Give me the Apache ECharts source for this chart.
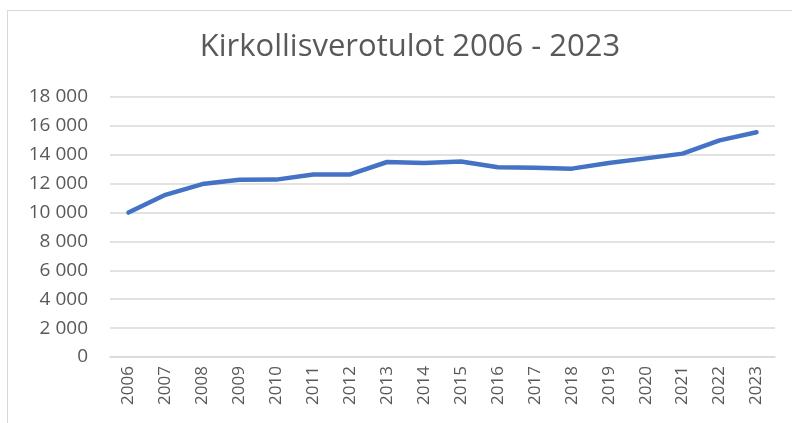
<!DOCTYPE html>
<html>
<head>
<meta charset="utf-8">
<script src="https://cdn.jsdelivr.net/npm/echarts@6/dist/echarts.min.js"></script>
<style>
  html, body { margin: 0; padding: 0; background: #fff; }
  #frame { position: absolute; left: 7px; top: 10px; width: 800px; height: 430px;
           border-left: 1.5px solid #d9d9d9; border-top: 1.5px solid #d9d9d9; }
  #chart { position: absolute; left: 0; top: 0; width: 792px; height: 423px; }
</style>
</head>
<body>
<div id="frame"></div>
<div id="chart"></div>
<script>
// vuodet ja kirkollisverotulot
const years = ['2006', '2007', '2008', '2009', '2010', '2011', '2012', '2013', '2014',
  '2015', '2016', '2017', '2018', '2019', '2020', '2021', '2022', '2023'];
const taxIncome = [10000, 11230, 11970, 12270, 12280, 12640, 12640, 13500, 13430,
  13540, 13130, 13110, 13040, 13430, 13750, 14080, 15000, 15560];

const chart = echarts.init(document.getElementById('chart'));
const gray = '#595959';
const font = '"Open Sans", "Noto Sans", sans-serif';

const option = {
  animation: false,
  title: {
    text: 'Kirkollisverotulot 2006 - 2023',
    left: 405,
    top: 27,
    textAlign: 'center',
    textStyle: { fontFamily: font, fontSize: 31, fontWeight: 'normal', color: gray }
  },
  grid: { left: 110, right: 17, top: 97, bottom: 66 },
  xAxis: {
    type: 'category',
    data: years,
    boundaryGap: true,
    axisLine: { lineStyle: { color: '#d9d9d9', width: 1.5 } },
    axisTick: { show: false },
    axisLabel: { rotate: 90, margin: 9, color: gray, fontFamily: font, fontSize: 17 }
  },
  yAxis: {
    type: 'value',
    min: 0,
    max: 18000,
    interval: 2000,
    axisLine: { show: false },
    axisTick: { show: false },
    splitLine: { lineStyle: { color: '#d9d9d9', width: 1.5 } },
    axisLabel: {
      margin: 22,
      color: gray,
      fontFamily: font,
      fontSize: 19,
      formatter: v => String(v).replace(/\B(?=(\d{3})+(?!\d))/g, ' ')
    }
  },
  series: [{
    type: 'line',
    data: taxIncome,
    symbol: 'none',
    lineStyle: { color: '#4472C4', width: 4.5, cap: 'round', join: 'round' }
  }]
};
chart.setOption(option);
</script>
</body>
</html>
